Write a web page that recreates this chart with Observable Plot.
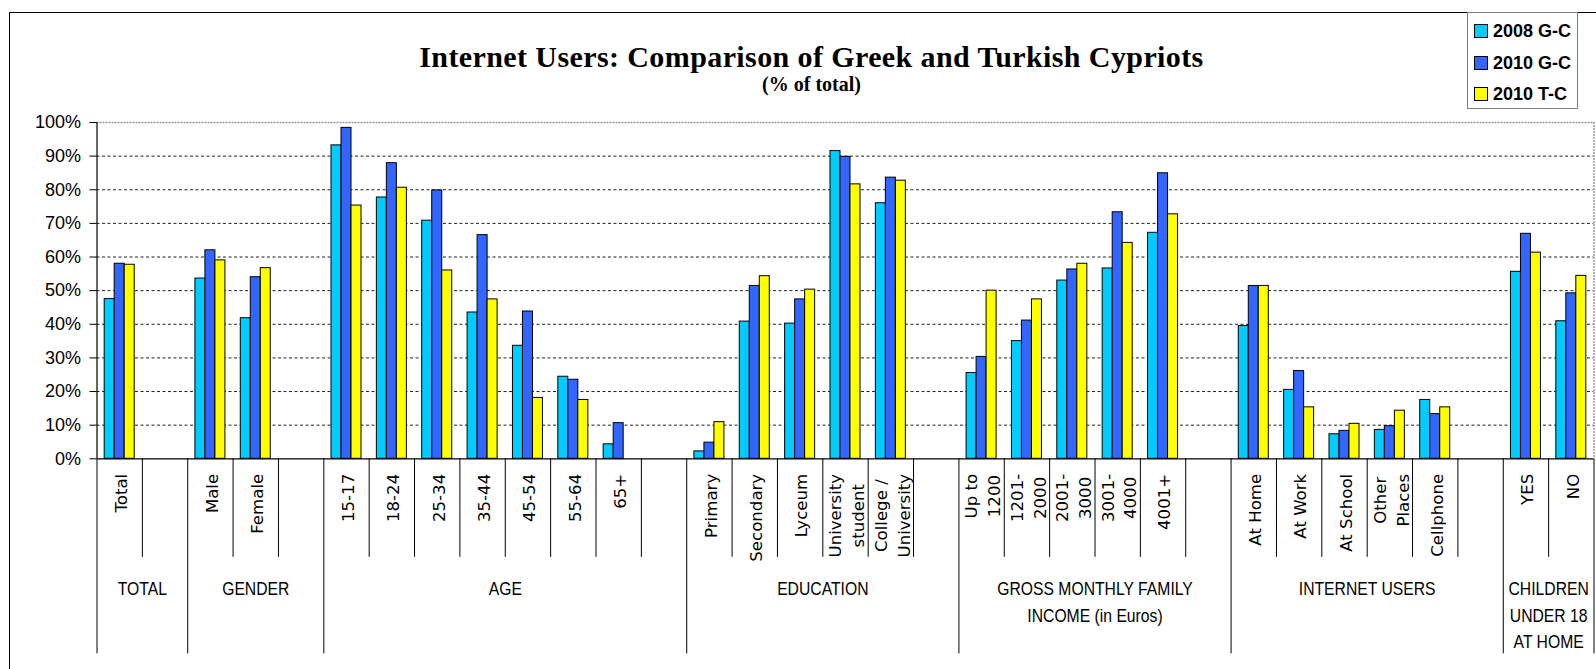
<!DOCTYPE html>
<html><head><meta charset="utf-8">
<script src="https://cdn.jsdelivr.net/npm/d3@7"></script>
<script src="https://cdn.jsdelivr.net/npm/@observablehq/plot@0.6"></script>
<style>
html,body{margin:0;padding:0;background:#fff;overflow:hidden;}
#wrap{position:relative;width:1596px;height:669px;overflow:hidden;background:#fff;}
#frame{position:absolute;left:9px;top:12px;width:1700px;height:800px;border:1.5px solid #000;box-sizing:border-box;}
#chart{position:absolute;left:0;top:0;}
#title{position:absolute;left:0;width:1623px;top:42px;text-align:center;font:bold 30px/30px "Liberation Serif",serif;letter-spacing:0.4px;color:#000;white-space:nowrap;}
#subtitle{position:absolute;left:0;width:1623px;top:74px;text-align:center;font:bold 20px/20px "Liberation Serif",serif;color:#000;}
#legend{position:absolute;left:1467px;top:12px;width:111px;height:97px;border:1px solid #7f7f7f;box-sizing:border-box;background:#fff;}
.lg-row{position:absolute;left:6px;height:18px;display:flex;align-items:center;font:bold 18px/18px "Liberation Sans",sans-serif;color:#000;white-space:nowrap;}
.sw{width:12px;height:12px;border:1px solid #000;margin-right:5px;flex:none;}
</style></head><body>
<div id="wrap">
  <div id="frame"></div>
  <div id="chart"></div>
  <div id="title">Internet Users: Comparison of Greek and Turkish Cypriots</div>
  <div id="subtitle">(% of total)</div>
  <div id="legend"></div>
</div>
<script>
// ---- data ----
const seriesNames = ["2008 G-C", "2010 G-C", "2010 T-C"];
const seriesColors = ["#00CCFF", "#3366FF", "#FFFF00"];

const categories = [
  "Total", "",
  "Male", "Female", "",
  "15-17", "18-24", "25-34", "35-44", "45-54", "55-64", "65+", "",
  "Primary", "Secondary", "Lyceum", "University\nstudent", "College /\nUniversity", "",
  "Up to\n1200", "1201-\n2000", "2001-\n3000", "3001-\n4000", "4001+", "",
  "At Home", "At Work", "At School", "Other\nPlaces", "Cellphone", "",
  "YES", "NO"
];

const gc2008 = [
  47.5, null,
  53.6, 41.8, null,
  93.2, 77.7, 70.8, 43.5, 33.6, 24.4, 4.3, null,
  2.2, 40.8, 40.2, 91.5, 76.0, null,
  25.5, 35.0, 53.0, 56.6, 67.2, null,
  39.5, 20.5, 7.3, 8.6, 17.5, null,
  55.6, 40.9
];
const gc2010 = [
  58.0, null,
  62.0, 54.0, null,
  98.4, 87.9, 79.8, 66.5, 43.8, 23.5, 10.6, null,
  4.8, 51.4, 47.4, 89.8, 83.6, null,
  30.3, 41.1, 56.3, 73.3, 84.9, null,
  51.4, 26.1, 8.3, 9.7, 13.3, null,
  66.9, 49.2
];
const tc2010 = [
  57.7, null,
  59.0, 56.7, null,
  75.3, 80.6, 56.0, 47.4, 18.1, 17.5, null, null,
  10.9, 54.3, 50.3, 81.6, 82.7, null,
  50.0, 47.4, 58.0, 64.2, 72.7, null,
  51.4, 15.3, 10.4, 14.3, 15.3, null,
  61.3, 54.4
];

const groupNames = ["TOTAL", "GENDER", "AGE", "EDUCATION", "GROSS MONTHLY FAMILY\nINCOME (in Euros)", "INTERNET USERS", "CHILDREN\nUNDER 18\nAT HOME"];
const groupSizes = [2, 3, 8, 6, 6, 6, 2];

const yTicks = [0, 10, 20, 30, 40, 50, 60, 70, 80, 90, 100];

// ---- derived tables ----
const seriesArrays = [gc2008, gc2010, tc2010];
const bars = [];
categories.forEach((c, i) => {
  seriesArrays.forEach((arr, k) => {
    if (arr[i] != null) bars.push({i, k, series: seriesNames[k], value: arr[i]});
  });
});
const catLabels = categories.map((label, i) => ({i, label})).filter(d => d.label !== "");
const groupStarts = d3.cumsum([0, ...groupSizes]);
const groups = groupNames.map((name, g) => ({name, start: groupStarts[g], size: groupSizes[g]}));
const nSlots = categories.length;
const boundaries = d3.range(0, nSlots + 1).map(b => ({b, group: groupStarts.includes(b)}));

const barW = 0.2205;                 // bar width as a fraction of a category slot
const barOff = (1 - 3 * barW) / 2;   // centred cluster

const chart = Plot.plot({
  width: 1596, height: 669,
  marginLeft: 96.5, marginRight: 2.5, marginTop: 122, marginBottom: 210.7,
  x: {domain: [0, nSlots], axis: null},
  y: {domain: [0, 100], axis: null, label: null},
  color: {domain: seriesNames, range: seriesColors},
  style: {fontFamily: "'Liberation Sans', sans-serif", fontSize: "18px", background: "transparent", overflow: "visible", color: "#000"},
  marks: [
    Plot.ruleY(yTicks.filter(t => t > 0 && t < 100), {stroke: "#222", strokeDasharray: "3,2.5", strokeWidth: 1}),
    Plot.ruleY([100], {stroke: "#999", strokeDasharray: "2,1", strokeWidth: 1.5}),
    Plot.ruleX([nSlots], {stroke: "#999", strokeDasharray: "2,1", strokeWidth: 1.5}),
    Plot.rectY(bars, {
      x1: d => d.i + barOff + d.k * barW,
      x2: d => d.i + barOff + (d.k + 1) * barW,
      y1: 0, y2: "value",
      fill: "series", stroke: "#000", strokeWidth: 1
    }),
    Plot.ruleX([0], {stroke: "#000", strokeWidth: 1.2}),
    Plot.ruleY([0], {stroke: "#000", strokeWidth: 1.2}),
    Plot.axisY(yTicks, {anchor: "left", label: null, tickSize: 7, tickPadding: 9, tickFormat: d => d + "%", fontSize: 18, stroke: "#000"}),
    Plot.ruleX(boundaries, {x: "b", y1: 0, y2: d => d.group ? -58 : -29.3, stroke: "#000", strokeWidth: 1}),
    Plot.text(catLabels, {
      x: d => d.i + 0.5, y: 0, text: "label",
      rotate: -90, textAnchor: "end", dy: 15,
      fontFamily: "'DejaVu Sans', sans-serif", fontSize: 16.6, lineHeight: 1.38, fill: "#000"
    }),
    Plot.text(groups, {
      x: d => d.start + d.size / 2, y: 0, text: "name",
      lineAnchor: "top", dy: 117.5, lineHeight: 1.44,
      fontFamily: "'Liberation Sans', sans-serif", fontSize: 18.5, fill: "#000"
    })
  ]
});
document.getElementById("chart").appendChild(chart);

const textMarks = chart.querySelectorAll('g[aria-label="text"]');
const catG = textMarks[0], groupG = textMarks[textMarks.length - 1];

// multi-line category labels: centre each line on the longest one (block stays top-aligned)
catG.querySelectorAll("text").forEach(t => {
  const spans = t.querySelectorAll("tspan");
  if (spans.length < 2) return;
  const L = d3.max(Array.from(spans), s => s.getComputedTextLength());
  t.setAttribute("text-anchor", "middle");
  spans.forEach(s => s.setAttribute("x", -L / 2));
});

// condensed look for the group labels (horizontal squeeze around each label's anchor)
groupG.querySelectorAll("text").forEach(t => {
  const x = +t.getAttribute("x") || 0, y = +t.getAttribute("y") || 0;
  const prev = t.getAttribute("transform") || "";
  t.setAttribute("transform", `${prev} translate(${x},${y}) scale(0.85,1) translate(${-x},${-y})`);
});

// legend
const legend = document.getElementById("legend");
const rowTops = [9.3, 40.7, 71.7];
seriesNames.forEach((name, k) => {
  const row = document.createElement("div");
  row.className = "lg-row";
  row.style.top = rowTops[k] + "px";
  const sw = document.createElement("div");
  sw.className = "sw";
  sw.style.background = seriesColors[k];
  const t = document.createElement("span");
  t.textContent = name;
  row.appendChild(sw); row.appendChild(t);
  legend.appendChild(row);
});
</script>
</body></html>
